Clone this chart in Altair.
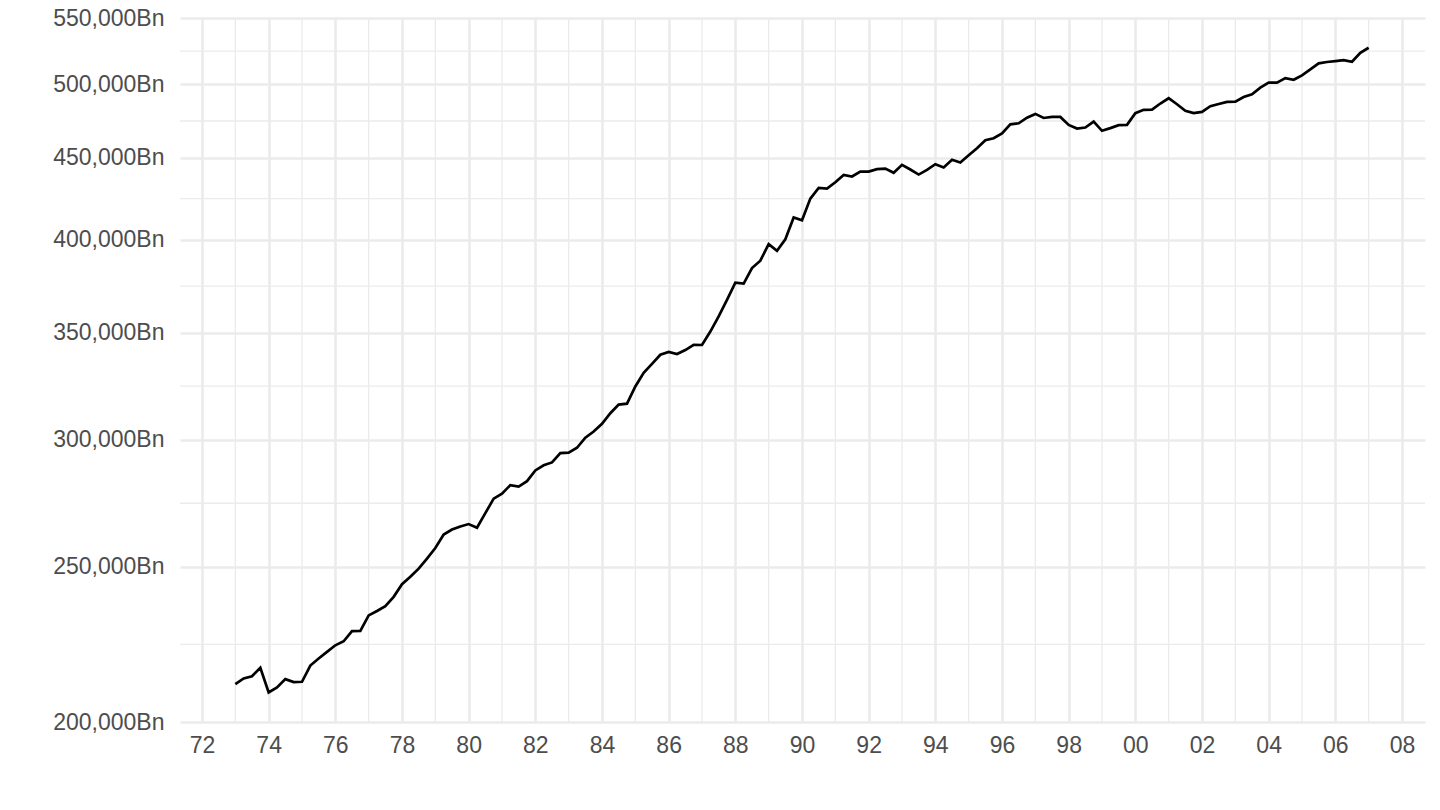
import altair as alt
import pandas as pd

# Quarterly series, 1973Q1 .. 2007Q1 (values in Bn)
start_period = "1973Q1"
values = [
    211200, 212900, 213600, 216200,
    208700, 210200, 212700, 211800,
    211900, 216900, 219100, 221200,
    223300, 224600, 227900, 228000,
    233100, 234600, 236200, 239400,
    243800, 246400, 249300, 252900,
    256800, 261800, 263700, 264900,
    265800, 264400, 270000, 275700,
    277700, 281100, 280500, 282700,
    287100, 289200, 290400, 294300,
    294500, 296600, 300900, 303600,
    307000, 311700, 315600, 316000,
    323900, 330300, 334600, 339000,
    340400, 339400, 341300, 343900,
    343800, 350500, 358200, 366800,
    376000, 375500, 384000, 388100,
    397400, 393600, 400200, 412900,
    411300, 424300, 430900, 430400,
    434400, 439000, 438000, 441100,
    441100, 442600, 443000, 440300,
    445400, 442400, 439200, 442200,
    445800, 443700, 448600, 446900,
    451600, 456100, 461400, 462700,
    466000, 472100, 472800, 476600,
    479200, 476400, 477100, 477100,
    471700, 469200, 469900, 473900,
    467700, 469500, 471500, 471700,
    479700, 482000, 482200, 486400,
    490100, 485900, 481300, 479700,
    480600, 484500, 486100, 487500,
    487700, 491000, 492900, 497600,
    501200, 501200, 504500, 503300,
    506500, 510900, 515300, 516300,
    517000, 517700, 516500, 523200,
    527000,
]

x_major = [1972, 1974, 1976, 1978, 1980, 1982, 1984, 1986, 1988, 1990, 1992,
           1994, 1996, 1998, 2000, 2002, 2004, 2006, 2008]
x_minor = [1973, 1975, 1977, 1979, 1981, 1983, 1985, 1987, 1989, 1991, 1993,
           1995, 1997, 1999, 2001, 2003, 2005, 2007]
y_major = [200000, 250000, 300000, 350000, 400000, 450000, 500000, 550000]
y_minor = [223607, 273861, 324037, 374166, 424264, 474342, 524404]

periods = pd.period_range(start_period, periods=len(values), freq="Q")
df = pd.DataFrame({
    "t": [p.year + (p.quarter - 1) / 4 for p in periods],
    "value": values,
})
xminor_df = pd.DataFrame({"t": x_minor})
yminor_df = pd.DataFrame({"value": y_minor})

grid_color = "#EBEBEB"
label_color = "#4D4D4D"

xscale = alt.Scale(domain=[1971.34, 2008.69], nice=False, zero=False)
yscale = alt.Scale(type="log", domain=[200000, 550000], nice=False)

xaxis = alt.Axis(
    values=x_major, title=None, grid=True, gridColor=grid_color, gridWidth=2.6,
    domain=False, ticks=False, tickSize=0, labelPadding=12,
    labelExpr="slice(toString(100 + datum.value % 100), 1)",
    labelColor=label_color, labelFontSize=23, labelFont="Liberation Sans",
)
yaxis = alt.Axis(
    values=y_major, title=None, grid=True, gridColor=grid_color, gridWidth=2.6,
    domain=False, ticks=False, tickSize=0, labelPadding=16,
    labelExpr="format(datum.value, ',') + 'Bn'",
    labelColor=label_color, labelFontSize=23, labelFont="Liberation Sans",
)

xminor = alt.Chart(xminor_df).mark_rule(color=grid_color, strokeWidth=1.3).encode(
    x=alt.X("t:Q", scale=xscale, axis=xaxis),
)
yminor = alt.Chart(yminor_df).mark_rule(color=grid_color, strokeWidth=1.3).encode(
    y=alt.Y("value:Q", scale=yscale, axis=yaxis),
)
line = alt.Chart(df).mark_line(color="black", strokeWidth=2.7).encode(
    x=alt.X("t:Q", scale=xscale, axis=xaxis),
    y=alt.Y("value:Q", scale=yscale, axis=yaxis),
)

chart = alt.layer(xminor, yminor, line).properties(
    width=1245,
    height=704,
    autosize=alt.AutoSizeParams(type="none"),
    padding={"left": 172, "top": 10, "right": 5, "bottom": 70},
    background="white",
).configure_view(stroke=None)

chart.save("out.html", embed_options={"renderer": "svg", "actions": False})
